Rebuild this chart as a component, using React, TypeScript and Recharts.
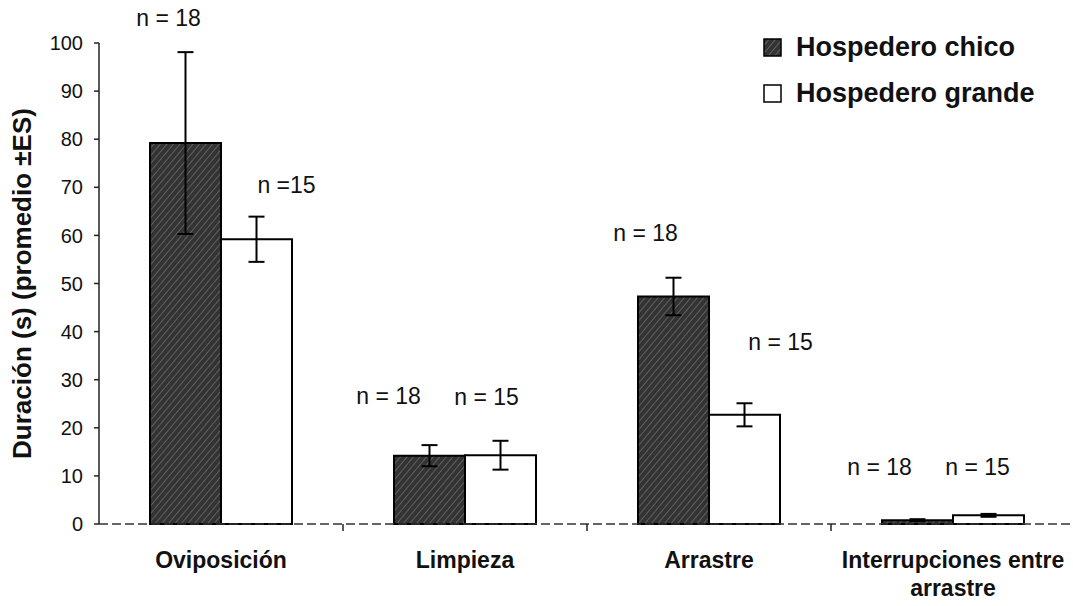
import React from "react";
import { BarChart, Bar, XAxis, YAxis, ErrorBar, LabelList, Legend } from "recharts";

const categories = ["Oviposición", "Limpieza", "Arrastre", "Interrupciones entre\narrastre"];
const chicoValues = [79.2, 14.2, 47.3, 0.8];
const chicoErrors = [18.9, 2.2, 3.9, 0.2];
const grandeValues = [59.2, 14.3, 22.7, 1.8];
const grandeErrors = [4.7, 3.0, 2.4, 0.3];
const chicoNLabels = ["n = 18", "n = 18", "n = 18", "n = 18"];
const grandeNLabels = ["n =15", "n = 15", "n = 15", "n = 15"];
const yTicks = [0, 10, 20, 30, 40, 50, 60, 70, 80, 90, 100];
const seriesNames = ["Hospedero chico", "Hospedero grande"];

// layout offsets (px) of the free-standing "n =" annotations, relative to the error-bar top
const chicoLabelOffsets = [[-17, -34], [-41, -49], [-28, -45], [-38, -52]];
const grandeLabelOffsets = [[30, -32], [-14, -44], [36, -61], [-11, -47]];

const data = categories.map((c, i) => ({
  cat: c,
  chico: chicoValues[i],
  chicoErr: chicoErrors[i],
  grande: grandeValues[i],
  grandeErr: grandeErrors[i],
}));

const FONT = "'Liberation Sans', Arial, sans-serif";

const makeNLabel = (labels: string[], errs: number[], offs: number[][]) => (props: any) => {
  const { x, y, width, height, index, value } = props;
  const pxPerUnit = value > 0 ? height / value : 0;
  const errTop = y - pxPerUnit * errs[index];
  const cx = x + width / 2 + offs[index][0];
  const cy = errTop + offs[index][1];
  return (
    <text
      x={cx}
      y={cy}
      textAnchor="middle"
      dominantBaseline="central"
      fontFamily={FONT}
      fontSize={23}
      fill="#111"
    >
      {labels[index]}
    </text>
  );
};

const CatTick = (props: any) => {
  const { x, y, payload, width, visibleTicksCount, index } = props;
  const lines = String(payload.value).split("\n");
  const band = width && visibleTicksCount ? width / visibleTicksCount : 0;
  const left = x - band / 2;
  return (
    <g>
      {band > 0 && index > 0 && (
        <line x1={left} x2={left} y1={y} y2={y + 7} stroke="#222" strokeWidth={1.5} />
      )}
      {lines.map((l, i) => (
        <text
          key={i}
          x={x}
          y={y + 44 + i * 28}
          textAnchor="middle"
          fontFamily={FONT}
          fontWeight="bold"
          fontSize={23}
          fill="#111"
        >
          {l}
        </text>
      ))}
    </g>
  );
};

const LegendContent = () => (
  <div style={{ fontFamily: FONT, fontWeight: "bold", fontSize: 27, color: "#111" }}>
    {seriesNames.map((n, i) => (
      <div key={n} style={{ display: "flex", alignItems: "center", height: 46 }}>
        <svg width={19} height={19} style={{ marginRight: 14 }}>
          <rect
            x={1}
            y={1}
            width={17}
            height={17}
            fill={i === 0 ? "url(#hatchFill)" : "#fff"}
            stroke="#000"
            strokeWidth={1.5}
          />
        </svg>
        <span>{n}</span>
      </div>
    ))}
  </div>
);

export default function App() {
  return (
    <div style={{ position: "absolute", left: 0, top: 0, width: 1073, height: 606, overflow: "hidden", background: "#fff" }}>
      <BarChart
        width={1075}
        height={606}
        data={data}
        margin={{ top: 43, right: 0, bottom: 0, left: 0 }}
        barGap={0}
        barSize={71}
      >
        <defs>
          <pattern id="hatchFill" width="5" height="5" patternUnits="userSpaceOnUse" patternTransform="rotate(40)">
            <rect width="5" height="5" fill="#333333" />
            <line x1="0" y1="0" x2="0" y2="5" stroke="#8a8a8a" strokeWidth="1" />
          </pattern>
        </defs>
        <XAxis
          xAxisId="cat"
          dataKey="cat"
          height={82}
          axisLine={{ stroke: "#333", strokeWidth: 1.5, strokeDasharray: "9 4" }}
          tickLine={false}
          tickSize={0}
          tickMargin={0}
          interval={0}
          tick={<CatTick />}
        />
        <YAxis
          domain={[0, 100]}
          ticks={yTicks}
          width={99}
          axisLine={{ stroke: "#222", strokeWidth: 1.5 }}
          tickLine={{ stroke: "#222", strokeWidth: 1.5 }}
          tickSize={5}
          tickMargin={11}
          tick={{ fontFamily: FONT, fontSize: 20, fill: "#111" }}
          label={{
            content: (p: any) => {
              const vb = p.viewBox;
              const cy = vb.y + vb.height / 2;
              return (
                <text
                  x={22}
                  y={cy}
                  transform={`rotate(-90 22 ${cy})`}
                  textAnchor="middle"
                  dominantBaseline="central"
                  fontFamily={FONT}
                  fontWeight="bold"
                  fontSize={26}
                  fill="#111"
                >
                  Duración (s) (promedio ±ES)
                </text>
              );
            },
          }}
        />
        <Legend
          layout="horizontal"
          verticalAlign="middle"
          align="center"
          content={<LegendContent />}
          wrapperStyle={{ position: "absolute", left: 763, top: 24, width: 310 }}
        />
        <Bar
          xAxisId="cat"
          dataKey="chico"
          name={seriesNames[0]}
          fill="url(#hatchFill)"
          stroke="#000"
          strokeWidth={2}
          isAnimationActive={false}
        >
          <ErrorBar dataKey="chicoErr" width={8} stroke="#000" strokeWidth={2} />
          <LabelList dataKey="chico" content={makeNLabel(chicoNLabels, chicoErrors, chicoLabelOffsets)} />
        </Bar>
        <Bar
          xAxisId="cat"
          dataKey="grande"
          name={seriesNames[1]}
          fill="#fff"
          stroke="#000"
          strokeWidth={2}
          isAnimationActive={false}
        >
          <ErrorBar dataKey="grandeErr" width={8} stroke="#000" strokeWidth={2} />
          <LabelList dataKey="grande" content={makeNLabel(grandeNLabels, grandeErrors, grandeLabelOffsets)} />
        </Bar>
      </BarChart>
    </div>
  );
}
